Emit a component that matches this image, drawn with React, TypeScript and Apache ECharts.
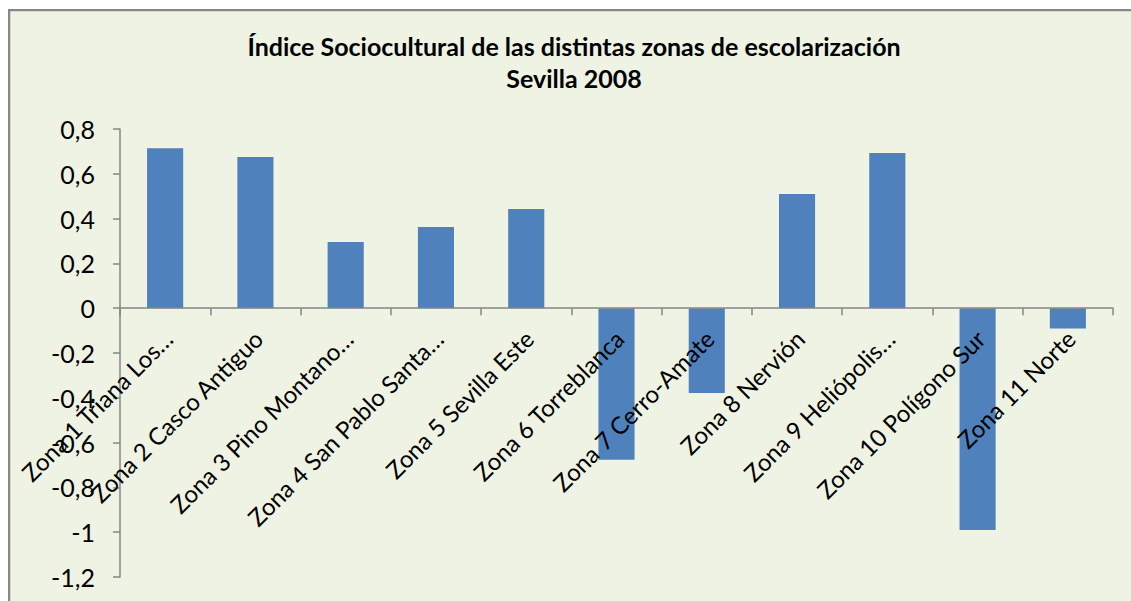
import React, { useEffect, useRef } from "react";
import * as echarts from "echarts";

const titleLines = ["Índice Sociocultural de las distintas zonas de escolarización", "Sevilla 2008"];
const categories = [
  "Zona 1 Triana Los…",
  "Zona 2 Casco Antiguo",
  "Zona 3 Pino Montano…",
  "Zona 4 San Pablo Santa…",
  "Zona 5 Sevilla Este",
  "Zona 6 Torreblanca",
  "Zona 7 Cerro-Amate",
  "Zona 8 Nervión",
  "Zona 9 Heliópolis…",
  "Zona 10 Polígono Sur",
  "Zona 11 Norte",
];
const values = [0.714, 0.675, 0.296, 0.363, 0.443, -0.677, -0.379, 0.51, 0.693, -0.99, -0.091];
const yMin = -1.2;
const yMax = 0.8;
const yStep = 0.2;

const FONT = "Lato, 'Open Sans', sans-serif";
const AXIS = "#868686";

const GRID_TOP = 120;
const GRID_BOTTOM = 24;
const CHART_H = 592;

export default function App() {
  const ref = useRef<HTMLDivElement>(null);
  useEffect(() => {
    if (!ref.current) return;
    const chart = echarts.init(ref.current, undefined, { renderer: "svg" });
    const plotH = CHART_H - GRID_TOP - GRID_BOTTOM;
    const zeroY = GRID_TOP + (yMax / (yMax - yMin)) * plotH;
    const xOffset = zeroY - (CHART_H - GRID_BOTTOM);
    chart.setOption({
      animation: false,
      backgroundColor: "#EEF3E4",
      textStyle: { fontFamily: FONT },
      title: {
        text: titleLines.join("\n"),
        left: 561,
        top: 16,
        textAlign: "center",
        textStyle: { fontFamily: FONT, fontWeight: "bold", fontSize: 25, lineHeight: 32, color: "#000" },
      },
      graphic: [
        { type: "line", shape: { x1: 1, y1: 0, x2: 1, y2: 600 }, style: { stroke: "#878787", lineWidth: 2.5 } },
        { type: "line", shape: { x1: 0, y1: 1, x2: 1200, y2: 1 }, style: { stroke: "#878787", lineWidth: 2.5 } },
      ],
      grid: { left: 112, right: 18, top: GRID_TOP, bottom: GRID_BOTTOM, containLabel: false, outerBoundsMode: "none" },
      xAxis: {
        type: "category",
        data: categories,
        offset: xOffset,
        z: 5,
        axisLine: { onZero: false, lineStyle: { color: AXIS, width: 1.5 } },
        axisTick: { show: true, length: 7, interval: 0, lineStyle: { color: AXIS, width: 1.5 } },
        axisLabel: {
          interval: 0,
          rotate: 45,
          margin: 12,
          fontSize: 24,
          color: "#000",
          fontFamily: FONT,
          hideOverlap: false,
          align: "right",
          verticalAlign: "top",
          padding: [0, 8, 0, 0],
        },
        splitLine: { show: false },
      },
      yAxis: {
        type: "value",
        min: yMin,
        max: yMax,
        interval: yStep,
        axisLine: { show: true, lineStyle: { color: AXIS, width: 1.5 } },
        axisTick: { show: true, length: 7, lineStyle: { color: AXIS, width: 1.5 } },
        axisLabel: {
          margin: 25,
          fontSize: 25,
          color: "#000",
          fontFamily: FONT,
          formatter: (v: number) => String(Number(v.toFixed(1))).replace(".", ","),
        },
        splitLine: { show: false },
      },
      series: [
        {
          type: "bar",
          data: values,
          barWidth: "40%",
          itemStyle: { color: "#4F81BD" },
        },
      ],
    });
    return () => chart.dispose();
  }, []);
  return (
    <div
      ref={ref}
      style={{ position: "absolute", left: 8, top: 9, width: 1123, height: 592 }}
    />
  );
}
